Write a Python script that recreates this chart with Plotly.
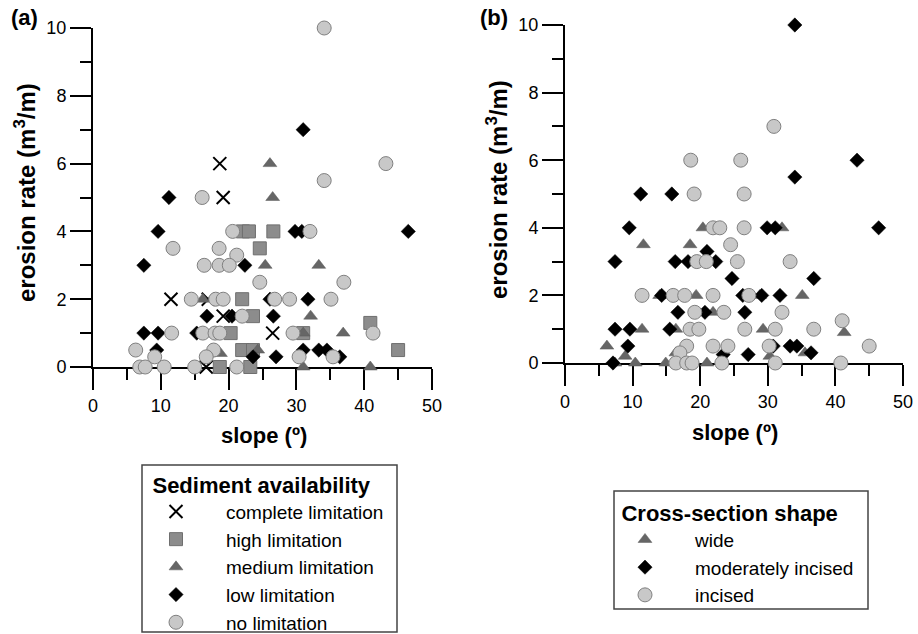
import plotly.graph_objects as go

# ---------------- Panel (a): sediment availability ----------------
a_complete_x = [18.7, 19.2, 11.5, 17.0, 19.2, 26.5, 16.7]
a_complete_y = [6.0, 5.0, 2.0, 2.0, 1.5, 1.0, 0.0]

a_high_x = [22.1, 23.0, 26.6, 24.6, 22.0, 23.6, 20.3, 31.0, 40.9, 22.0, 23.6, 45.0, 18.7, 23.2]
a_high_y = [4.0, 4.0, 4.0, 3.5, 2.0, 1.5, 1.0, 1.0, 1.3, 0.5, 0.5, 0.5, 0.0, 0.0]

a_medium_x = [26.1, 26.5, 25.4, 33.3, 16.2, 32.1, 31.0, 36.9, 24.3, 18.8, 31.0, 40.9]
a_medium_y = [6.0, 5.0, 3.0, 3.0, 2.0, 1.5, 1.0, 1.0, 0.5, 0.4, 0.0, 0.0]

a_low_x = [31.0, 11.2, 9.6, 46.5, 29.8, 30.8, 7.5, 22.4, 26.1, 31.7, 16.8, 20.5, 26.6,
           7.5, 9.6, 15.3, 9.4, 31.0, 33.3, 34.5, 23.6, 27.0, 36.4]
a_low_y = [7.0, 5.0, 4.0, 4.0, 4.0, 4.0, 3.0, 3.0, 2.0, 2.0, 1.5, 1.5, 1.5,
           1.0, 1.0, 1.0, 0.5, 0.5, 0.5, 0.5, 0.3, 0.3, 0.3]

a_none_x = [34.1, 43.2, 34.1, 16.1, 20.6, 32.0, 11.8, 18.6, 21.2, 16.4, 18.6, 20.1, 24.6, 37.0,
            14.5, 18.1, 19.2, 26.8, 29.0, 35.1, 22.0, 11.6, 16.2, 18.0, 18.7, 29.5, 41.3,
            6.3, 17.8, 9.1, 16.7, 30.4, 35.4, 6.9, 7.7, 10.5, 15.0, 21.2]
a_none_y = [10.0, 6.0, 5.5, 5.0, 4.0, 4.0, 3.5, 3.5, 3.3, 3.0, 3.0, 3.0, 2.5, 2.5,
            2.0, 2.0, 2.0, 2.0, 2.0, 2.0, 1.5, 1.0, 1.0, 1.0, 1.0, 1.0, 1.0,
            0.5, 0.5, 0.3, 0.3, 0.3, 0.3, 0.0, 0.0, 0.0, 0.0, 0.0]

# ---------------- Panel (b): cross-section shape ----------------
b_wide_x = [20.4, 32.1, 11.6, 18.5, 14.0, 19.4, 28.8, 35.1, 21.9, 11.4, 16.4, 29.3, 41.3,
            6.2, 8.9, 16.4, 30.3, 35.5, 7.4, 10.4, 14.9, 21.0]
b_wide_y = [4.0, 4.0, 3.5, 3.5, 2.0, 2.0, 2.0, 2.0, 1.5, 1.0, 1.0, 1.0, 0.9,
            0.5, 0.2, 0.3, 0.2, 0.3, 0.0, 0.0, 0.0, 0.0]

b_moderate_x = [34.0, 43.2, 34.0, 11.2, 15.8, 9.5, 29.9, 31.1, 46.4, 21.0, 7.4, 16.3, 18.2, 22.3,
                24.7, 36.8, 14.3, 26.3, 29.1, 31.8, 16.7, 20.7, 26.6, 7.4, 9.6, 15.5,
                9.3, 30.8, 33.3, 34.3, 23.4, 27.1, 36.4, 7.1]
b_moderate_y = [10.0, 6.0, 5.5, 5.0, 5.0, 4.0, 4.0, 4.0, 4.0, 3.3, 3.0, 3.0, 3.0, 3.0,
                2.5, 2.5, 2.0, 2.0, 2.0, 2.0, 1.5, 1.5, 1.5, 1.0, 1.0, 1.0,
                0.5, 0.5, 0.5, 0.5, 0.25, 0.25, 0.3, 0.0]

b_incised_x = [30.9, 18.6, 26.0, 19.1, 26.5, 21.9, 22.9, 26.5, 24.5, 19.5, 20.9, 25.5, 33.3,
               11.4, 16.0, 17.7, 21.9, 27.2, 19.2, 23.5, 32.1, 18.5, 19.8, 26.6, 31.1, 36.8, 41.0,
               18.0, 21.9, 24.1, 30.2, 45.0, 17.0, 16.4, 18.0, 18.8, 23.2, 31.1, 40.8]
b_incised_y = [7.0, 6.0, 6.0, 5.0, 5.0, 4.0, 4.0, 4.0, 3.5, 3.0, 3.0, 3.0, 3.0,
               2.0, 2.0, 2.0, 2.0, 2.0, 1.5, 1.5, 1.5, 1.0, 1.0, 1.0, 1.0, 1.0, 1.25,
               0.5, 0.5, 0.5, 0.5, 0.5, 0.3, 0.0, 0.0, 0.0, 0.0, 0.0, 0.0]

FONT = "Liberation Sans, Arial, sans-serif"
W = 918
H = 660   # a little taller than the 634 px window so the legend never pushes the margins

X_STYLE = dict(symbol="x-thin-open", size=13, color="black", line=dict(color="black", width=2))
SQ_STYLE = dict(symbol="square", size=13, color="#8c8c8c", line=dict(color="#6f6f6f", width=1))
TRI_STYLE = dict(symbol="triangle-up", size=12, color="#666666", line=dict(color="#5a5a5a", width=0.5))
DIA_STYLE = dict(symbol="diamond", size=11, color="black", line=dict(color="black", width=0.5))
CIR_STYLE = dict(symbol="circle", size=14, color="#c8c8c8", line=dict(color="#808080", width=1))

fig = go.Figure()

def add(xs, ys, name, marker, xa, ya, legend):
    fig.add_trace(go.Scatter(x=xs, y=ys, mode="markers", name=name, marker=marker,
                             xaxis=xa, yaxis=ya, legend=legend, cliponaxis=False,
                             hoverinfo="x+y+name"))

add(a_complete_x, a_complete_y, "complete limitation", X_STYLE, "x", "y", "legend")
add(a_high_x, a_high_y, "high limitation", SQ_STYLE, "x", "y", "legend")
add(a_medium_x, a_medium_y, "medium limitation", TRI_STYLE, "x", "y", "legend")
add(a_low_x, a_low_y, "low limitation", DIA_STYLE, "x", "y", "legend")
add(a_none_x, a_none_y, "no limitation", CIR_STYLE, "x", "y", "legend")

add(b_wide_x, b_wide_y, "wide", TRI_STYLE, "x2", "y2", "legend2")
add(b_moderate_x, b_moderate_y, "moderately incised", DIA_STYLE, "x2", "y2", "legend2")
add(b_incised_x, b_incised_y, "incised", CIR_STYLE, "x2", "y2", "legend2")

TICK_FONT = dict(family=FONT, size=18, color="black")

def xax(domain, anchor):
    return dict(domain=domain, anchor=anchor, range=[0, 50], tick0=0, dtick=10,
                ticks="outside", ticklen=21, tickwidth=2, tickcolor="black",
                showline=True, linewidth=2, linecolor="black", showgrid=False, zeroline=False,
                tickfont=TICK_FONT, layer="below traces", automargin=False,
                ticklabeloverflow="allow",
                minor=dict(dtick=5, ticks="outside", ticklen=11, tickwidth=2, tickcolor="black",
                           showgrid=False))

def yax(domain, anchor):
    return dict(domain=domain, anchor=anchor, range=[0, 10], tick0=0, dtick=2,
                ticks="outside", ticklen=21, tickwidth=2, tickcolor="black",
                showline=True, linewidth=2, linecolor="black", showgrid=False, zeroline=False,
                tickfont=TICK_FONT, layer="below traces", automargin=False,
                minor=dict(dtick=1, ticks="outside", ticklen=11, tickwidth=2, tickcolor="black",
                           showgrid=False))

def px_x(p):
    return p / W

def px_y(p):
    return (H - p) / H

TITLE_FONT = dict(family=FONT, size=22, color="black")
YTITLE_FONT = dict(family=FONT, size=24, color="black")

annotations = [
    dict(text="<b>(a)</b>", x=px_x(24), y=px_y(18), xref="paper", yref="paper",
         showarrow=False, font=TITLE_FONT, xanchor="center", yanchor="middle"),
    dict(text="<b>(b)</b>", x=px_x(494), y=px_y(18), xref="paper", yref="paper",
         showarrow=False, font=TITLE_FONT, xanchor="center", yanchor="middle"),
    dict(text="<b>slope (º)</b>", x=px_x(264), y=px_y(435), xref="paper", yref="paper",
         showarrow=False, font=TITLE_FONT, xanchor="center", yanchor="middle"),
    dict(text="<b>slope (º)</b>", x=px_x(735), y=px_y(432), xref="paper", yref="paper",
         showarrow=False, font=TITLE_FONT, xanchor="center", yanchor="middle"),
    dict(text="<b>erosion rate (m<sup>3</sup>/m)</b>", x=px_x(25), y=px_y(193), xref="paper",
         yref="paper", showarrow=False, font=YTITLE_FONT, textangle=-90,
         xanchor="center", yanchor="middle"),
    dict(text="<b>erosion rate (m<sup>3</sup>/m)</b>", x=px_x(497), y=px_y(190), xref="paper",
         yref="paper", showarrow=False, font=YTITLE_FONT, textangle=-90,
         xanchor="center", yanchor="middle"),
]

BOX_LINE = dict(color="#444444", width=1.5)
shapes = [
    dict(type="rect", xref="paper", yref="paper", x0=px_x(142), x1=px_x(397),
         y0=px_y(632), y1=px_y(465), line=BOX_LINE, fillcolor="rgba(0,0,0,0)", layer="below"),
    dict(type="rect", xref="paper", yref="paper", x0=px_x(614), x1=px_x(868),
         y0=px_y(609), y1=px_y(491), line=BOX_LINE, fillcolor="rgba(0,0,0,0)", layer="below"),
]

legend_common = dict(borderwidth=0, bgcolor="rgba(0,0,0,0)",
                     font=dict(family=FONT, size=19, color="black"), itemwidth=90,
                     xanchor="left", yanchor="top", tracegroupgap=0)

LEG_TITLE_FONT = dict(family=FONT, size=22, color="black")
PAD = "&nbsp;" * 4

fig.update_layout(
    template="none",
    width=W, height=H, autosize=False,
    margin=dict(l=0, r=0, t=0, b=0, pad=0),
    paper_bgcolor="white", plot_bgcolor="white",
    font=dict(family=FONT, color="black"),
    showlegend=True,
    xaxis=xax([px_x(93), px_x(432)], "y"),
    yaxis=yax([px_y(367), px_y(28)], "x"),
    xaxis2=xax([px_x(565), px_x(903)], "y2"),
    yaxis2=yax([px_y(363), px_y(25)], "x2"),
    legend=dict(x=px_x(126), y=px_y(464),
                title=dict(text=PAD + "<b>Sediment availability</b>", font=LEG_TITLE_FONT),
                **legend_common),
    legend2=dict(x=px_x(595), y=px_y(492),
                 title=dict(text=PAD + "<b>Cross-section shape</b>", font=LEG_TITLE_FONT),
                 **legend_common),
    annotations=annotations,
    shapes=shapes,
)

fig.write_html("out.html", config={"displayModeBar": False},
               post_script="document.body.style.margin='0';document.body.style.overflow='hidden';")
